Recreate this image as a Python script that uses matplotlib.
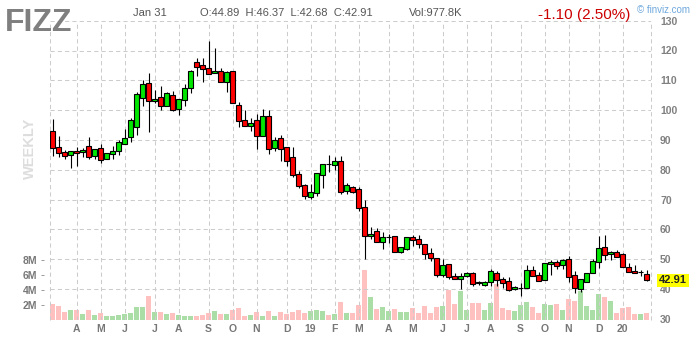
import matplotlib
matplotlib.use('Agg')
import matplotlib.pyplot as plt
from matplotlib.transforms import blended_transform_factory
import numpy as np

plt.rcParams['font.family'] = ['Liberation Sans', 'DejaVu Sans']

ticker = "FIZZ"
date_label = "Jan 31"
change = -1.10
change_pct = 2.50

opens = [92.99, 87.6, 85.8, 85.1, 86.2, 85.8, 87.8, 84.5, 87.3, 83.7,
         85.4, 86.2, 88.5, 90.9, 94.2, 104.2, 109.0, 102.9, 104.3, 101.3,
         104.95, 100.3, 103.3, 107.3, 116.0, 115.0, 114.0, 112.35, 113.0, 109.3,
         113.0, 101.8, 96.7, 94.8, 96.7, 91.4, 98.0, 87.3, 90.6, 87.7,
         84.3, 78.4, 74.9, 70.95, 72.1, 78.1, 81.9, 81.5, 82.9, 72.7,
         74.2, 73.4, 67.4, 57.6, 59.5, 55.9, 57.35, 57.6, 52.5, 53.3,
         57.3, 56.75, 54.96, 51.9, 50.5, 44.5, 48.2, 44.3, 43.2, 44.3,
         45.2, 42.15, 41.3, 42.2, 45.3, 43.3, 42.65, 39.85, 40.25, 40.2,
         46.2, 44.55, 42.9, 48.2, 49.0, 47.9, 49.9, 44.55, 40.1, 42.2,
         45.2, 48.9, 54.1, 51.6, 52.3, 51.7, 47.35, 46.0, 45.65, 44.89]
highs = [97.0, 91.3, 86.6, 86.2, 87.5, 87.4, 91.0, 86.8, 88.5, 85.5,
         87.95, 90.0, 93.7, 97.35, 106.1, 110.1, 112.45, 106.75, 108.1, 106.0,
         106.4, 103.6, 108.75, 113.4, 117.4, 117.4, 123.2, 121.0, 114.0, 113.2,
         113.0, 102.8, 100.0, 97.35, 98.6, 100.4, 100.0, 90.9, 91.5, 87.7,
         87.7, 79.6, 75.2, 75.2, 78.8, 81.8, 84.9, 84.4, 84.6, 75.5,
         74.6, 74.3, 69.7, 60.7, 60.6, 59.1, 58.3, 57.6, 54.0, 57.5,
         58.1, 58.1, 55.0, 53.6, 50.5, 50.0, 48.2, 45.2, 45.2, 45.8,
         45.6, 42.8, 42.65, 46.6, 46.0, 44.1, 43.9, 41.0, 41.9, 48.0,
         47.7, 45.7, 48.7, 49.7, 49.7, 50.1, 51.0, 45.9, 43.2, 45.2,
         49.9, 57.9, 58.1, 52.8, 53.05, 51.9, 48.6, 48.0, 46.3, 46.37]
lows = [84.7, 84.4, 83.7, 80.7, 81.4, 84.4, 83.5, 83.5, 82.4, 83.7,
        83.7, 85.0, 88.5, 89.2, 91.75, 101.4, 92.5, 102.3, 100.0, 101.3,
        99.7, 98.5, 101.5, 105.85, 111.6, 109.5, 112.0, 112.35, 109.3, 106.0,
        102.3, 94.4, 94.55, 93.1, 87.05, 91.4, 85.4, 86.4, 83.0, 81.4,
        77.6, 74.0, 70.2, 70.05, 71.3, 74.0, 79.3, 79.8, 71.8, 71.9,
        72.3, 66.1, 50.0, 56.75, 55.9, 53.4, 55.5, 52.3, 51.9, 53.1,
        54.4, 53.8, 49.9, 49.5, 44.1, 44.1, 43.3, 43.2, 39.85, 43.9,
        41.1, 41.4, 41.1, 41.1, 41.0, 40.2, 39.3, 39.6, 37.7, 40.2,
        44.2, 42.5, 42.9, 44.8, 46.7, 46.6, 42.2, 38.7, 39.1, 42.2,
        45.2, 46.9, 49.7, 49.7, 50.8, 47.2, 45.6, 45.2, 44.3, 42.68]
closes = [87.17, 85.5, 84.5, 86.2, 85.5, 86.6, 84.1, 86.8, 83.4, 85.5,
          86.3, 89.2, 90.6, 96.7, 105.3, 108.6, 102.9, 103.6, 101.5, 105.6,
          100.0, 103.6, 107.3, 113.0, 114.35, 113.7, 112.0, 113.0, 109.3, 112.7,
          102.3, 96.2, 94.55, 95.6, 91.4, 98.0, 87.05, 90.0, 86.8, 83.0,
          78.3, 74.6, 71.2, 72.4, 78.8, 81.8, 81.75, 82.9, 72.6, 74.9,
          72.6, 67.0, 57.6, 58.3, 55.9, 57.3, 57.45, 52.5, 53.95, 57.3,
          56.5, 55.2, 51.8, 50.3, 44.5, 48.0, 43.9, 43.2, 44.3, 45.2,
          41.5, 42.05, 42.2, 46.0, 42.9, 41.9, 39.5, 40.5, 40.35, 46.2,
          44.2, 42.8, 48.7, 49.0, 47.6, 49.6, 44.1, 40.2, 43.2, 45.2,
          49.4, 53.6, 51.3, 52.3, 50.8, 47.5, 45.6, 45.2, 45.75, 42.91]
volumes_m = [2.2, 1.9, 1.1, 1.37, 1.37, 0.84, 1.37, 0.71, 0.97, 0.57,
             0.57, 0.71, 0.84, 0.97, 1.77, 1.77, 3.24, 1.1, 1.1, 0.84,
             0.97, 0.71, 0.57, 0.57, 0.57, 0.71, 0.97, 1.24, 0.84, 0.84,
             1.37, 1.64, 0.57, 0.71, 1.1, 0.57, 1.24, 0.57, 1.1, 0.84,
             1.1, 1.37, 0.97, 1.24, 1.37, 1.24, 0.71, 0.84, 2.44, 0.97,
             0.97, 2.04, 6.7, 3.1, 1.5, 1.77, 1.24, 1.5, 1.1, 1.1,
             1.64, 0.97, 1.9, 0.97, 1.77, 1.9, 4.04, 2.17, 3.9, 1.37,
             2.3, 2.3, 1.37, 2.3, 4.84, 1.64, 1.37, 1.24, 2.04, 2.44,
             1.77, 0.97, 2.17, 2.04, 2.17, 1.37, 2.84, 2.57, 3.9, 1.9,
             1.37, 3.5, 3.1, 2.57, 0.97, 1.64, 1.77, 0.84, 0.84, 0.9778]

month_idx = [4, 8, 12, 17, 21, 26, 30, 34, 39, 43, 47,
             51, 56, 60, 65, 69, 73, 78, 82, 86, 91, 95]
month_labels = ['A', 'M', 'J', 'J', 'A', 'S', 'O', 'N', 'D', '19', 'F',
                'M', 'A', 'M', 'J', 'J', 'A', 'S', 'O', 'N', 'D', '20']
price_ticks = [30, 40, 50, 60, 70, 80, 90, 100, 110, 120, 130]
grid_prices = [40, 50, 60, 70, 80, 90, 100, 110, 120, 130]
vol_ticks = [2, 4, 6, 8]

# ---- layout (pixels) ----
W, H = 700, 340
Lp, Rp, Tp, Bp = 50, 651, 20.7, 320
first_x, step = 52.5, 6
px_per_m = 7.5

fig = plt.figure(figsize=(W / 100, H / 100), dpi=100)
fig.patch.set_facecolor('white')
rect = [Lp / W, 1 - Bp / H, (Rp - Lp) / W, (Bp - Tp) / H]
vax = fig.add_axes(rect)
ax = fig.add_axes(rect)
ax.patch.set_alpha(0)

n = len(closes)
x = np.arange(n)
xlim = (-(first_x - Lp) / step, (Rp - first_x) / step)

grid_kw = dict(color='#cccccc', lw=0.75, ls=(0, (4, 3)))

# volume
o = np.array(opens); c = np.array(closes)
up = c >= o
vcol = np.where(up, '#aadea6', '#ffc0c0')
vax.bar(x, volumes_m, width=5 / 6, color=vcol, linewidth=0, antialiased=False, zorder=1)
vax.set_xlim(*xlim)
vax.set_ylim(0, (Bp - Tp) / px_per_m)
for s in vax.spines.values():
    s.set_visible(False)
vax.spines['left'].set_position(('outward', 4.1))
vax.set_xticks([])
vax.set_yticks(vol_ticks, [f'{v}M' for v in vol_ticks])
vax.tick_params(axis='y', direction='out', length=1.9, width=0.7, color='#999999',
                pad=3.2, labelsize=7.5, labelcolor='#777777')
for t in vax.get_yticklabels():
    t.set_fontweight('bold')

# price axes
ax.set_xlim(*xlim)
ax.set_ylim(120 - (Bp - 50.5) / 2.98, 120 + (50.5 - Tp) / 2.98)
for s in ax.spines.values():
    s.set_visible(False)
for p in grid_prices:
    ax.axhline(p, zorder=0, **grid_kw)
for m in month_idx:
    ax.axvline(m, zorder=0, **grid_kw)
for e in xlim:
    ax.axvline(e, zorder=0, clip_on=False, **grid_kw)

# candles
ax.vlines(x, lows, highs, color='black', lw=0.8, zorder=3)
body_col = np.where(c > o, '#00e600', '#ff0000')
ax.bar(x, c - o, bottom=o, width=0.72, color=body_col, edgecolor='black',
       linewidth=0.8, zorder=4)

ax.yaxis.tick_right()
ax.set_yticks(price_ticks)
ax.tick_params(axis='y', length=0, pad=6.5, labelsize=7.5, labelcolor='#808080')
for t in ax.get_yticklabels():
    t.set_fontweight('bold')
ax.set_xticks(month_idx, month_labels)
ax.tick_params(axis='x', length=0, pad=3, labelsize=7.5, labelcolor='#777777')
for t in ax.get_xticklabels():
    t.set_fontweight('bold')

# last close box
trans = blended_transform_factory(ax.transAxes, ax.transData)
ax.text((659 - Lp) / (Rp - Lp), closes[-1], f'{closes[-1]:.2f}', transform=trans,
        ha='left', va='center', fontsize=8, fontweight='bold', color='#222222',
        bbox=dict(boxstyle='square,pad=0.15', fc='#ffff00', ec='none'),
        clip_on=False, zorder=10)

# header
def ft(xp, yp, s, **kw):
    fig.text(xp / W, 1 - yp / H, s, va='baseline', **kw)

ft(5, 31, ticker, fontsize=23, fontweight='bold', color='#7f7f7f')
ft(133, 16, date_label, fontsize=8, color='#555555')
ft(200, 16, f'O:{opens[-1]:.2f}  H:{highs[-1]:.2f}  L:{lows[-1]:.2f}  C:{closes[-1]:.2f}',
   fontsize=8, color='#555555')
ft(409, 16, f'Vol:{volumes_m[-1] * 1000:.1f}K', fontsize=8, color='#555555')
ft(538, 19, f'{change:.2f} ({change_pct:.2f}%)', fontsize=11, color='#cc0000')
ft(637, 13, '© finviz.com', fontsize=7, color='#6fa8dc')
fig.text(30 / W, 1 - 148 / H, 'WEEKLY', rotation=90, fontsize=10.5, fontweight='bold',
         color='#dddddd', ha='center', va='center')

fig.savefig('out.png', dpi=100, facecolor='white')
